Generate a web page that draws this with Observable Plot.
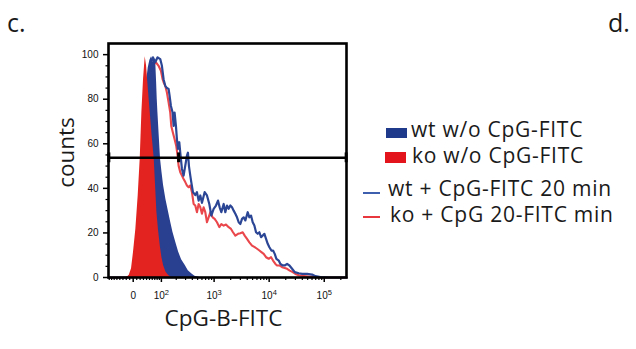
<!DOCTYPE html>
<html>
<head>
<meta charset="utf-8">
<script src="https://cdn.jsdelivr.net/npm/d3@7"></script>
<script src="https://cdn.jsdelivr.net/npm/@observablehq/plot@0.6"></script>
<style>
  html, body { margin: 0; padding: 0; background: #fff; }
  #wrap { position: relative; width: 636px; height: 349px; overflow: hidden; font-family: "Open Sans", sans-serif; color: #1a1a1a; }
  #wrap svg { position: absolute; left: 0; top: 0; }
  .t { position: absolute; white-space: nowrap; line-height: 1; }
  .sw { position: absolute; }
</style>
</head>
<body>
<div id="wrap"></div>
<script>
// ---------------- data ----------------
// x values are display channels on a biexponential (logicle-like) axis, y = counts (% of max)
const panelLabels = ["c.", "d."];
const xTitle = "CpG-B-FITC";
const yTitle = "counts";
const seriesNames = ["wt w/o CpG-FITC", "ko w/o CpG-FITC", "wt + CpG-FITC 20 min", "ko + CpG 20-FITC min"];

const wtNoCpg = [[-20,0],[-8,1],[0,4],[10,14],[20,35],[30,65],[38,85],[45,94],[50,97.5],[55,99],[60,96.6],[64,98],[68,95],[70,88],[72,80],[74,74],[77,66],[80,58],[82,53],[86,47.5],[91,41.3],[98,35],[106,29.3],[112,25],[119,20.3],[127,16],[136,11.4],[145,8],[156,5.4],[165,3],[176,1.6],[185,0.6],[191,0.3],[200,0]];

const koNoCpg = [[-20,0],[-12,0.9],[-5,3.9],[1,11.4],[8,21.8],[15,36.8],[21,53.2],[26,74],[31,89],[36,99],[40,95],[43,89],[51,74],[57,63],[63,53.2],[67,41.3],[71,29.3],[76,21],[81,14.3],[86,9],[91,5.4],[98,2.5],[106,0.9],[115,0]];

const wtCpg = [[-74,0],[-20,0],[-5,0.5],[10,5],[25,20],[35,45],[42,70],[48,88],[53,96.6],[59,98.8],[66,96.6],[73,98.8],[81,98],[86,95],[91,89],[96,86],[101,85],[106,84.6],[109,81.6],[113,77],[118,74],[121,68],[124,74],[128,68],[131,62],[134,57.7],[138,60.7],[141,56],[146,48.7],[151,45.7],[156,50.2],[161,54.7],[164,56],[167,50],[171,45.7],[174,42.8],[179,38.3],[186,37],[191,38.3],[196,34.5],[201,36.8],[206,33.5],[214,38.3],[221,36.8],[228,33],[234,27.8],[241,30.8],[248,32.3],[254,34.5],[259,31.5],[264,29.3],[271,33],[276,29.3],[281,32.3],[286,30.8],[291,32.3],[296,31.5],[301,30],[306,28.6],[311,27],[316,24.8],[321,24],[326,26.3],[331,27],[336,25.6],[343,29.3],[348,27],[353,27.8],[358,24.8],[363,23.3],[368,20.3],[373,19.6],[378,20.3],[383,18.1],[388,18.8],[393,19.6],[398,17.3],[403,15.1],[408,13.6],[414,12.1],[419,12.1],[424,10.6],[429,8.4],[436,7.6],[441,6.1],[448,5.4],[454,5.4],[461,6.1],[468,5.4],[476,3.9],[484,2.4],[496,1.9],[506,1.6],[521,1.6],[536,1.3],[546,0.6],[561,0.15],[586,0],[639,0]];

const koCpg = [[-74,0],[-20,0],[0,0.5],[20,4],[35,18],[45,45],[52,70],[58,88],[62,95],[66,97],[76,95],[83,92.8],[88,89],[91,87.6],[96,86],[101,83],[106,78.6],[111,74],[114,68],[119,65],[124,62],[129,59],[133,54.7],[136,50.2],[141,47.2],[146,45.7],[151,44.2],[156,42.8],[161,41.3],[166,40.5],[171,41.3],[176,38.3],[181,33],[186,32.3],[191,29.3],[196,33],[201,31.5],[206,28.6],[211,31.5],[216,29.3],[221,24.8],[226,27],[231,29.3],[238,27],[244,26.3],[251,24.8],[258,22.6],[264,24],[271,23.3],[278,23.8],[286,22.6],[293,21.8],[299,20.3],[306,18.8],[314,19.6],[321,19.9],[328,20.3],[334,18.8],[341,17.3],[348,15.8],[356,14.3],[364,13.6],[371,12.9],[378,12.1],[384,11.4],[391,10.6],[398,9.1],[406,8.4],[413,9.1],[419,7.6],[426,6.1],[431,5.4],[438,5.4],[446,4.6],[454,4.3],[461,3.9],[469,3.1],[478,2.4],[486,1.6],[496,1.0],[511,0.7],[526,0.45],[546,0.15],[566,0],[639,0]];

// gate line (horizontal marker) and its small end/handle marks
const gateCount = 53.7;
const gateMarks = [-73, 136, 638];

// axes
const xDomain = [-74, 639];
const yDomain = [0, 105];
const yMajor = [0, 20, 40, 60, 80, 100];
const yMinor = [5, 10, 15, 25, 30, 35, 45, 50, 55, 65, 70, 75, 85, 90, 95];
const xMajorValues = [0, 100, 1000, 10000, 100000];
const xMajorBase = ["0", "10", "10", "10", "10"];
const xMajorExp = ["", "2", "3", "4", "5"];
const xMinorValues = [-80,-70,-60,-50,-40,-30,-20,-10,10,20,30,40,50,60,70,80,90,
  200,300,400,500,600,700,800,900,2000,3000,4000,5000,6000,7000,8000,9000,
  20000,30000,40000,50000,60000,70000,80000,90000,200000];

const colors = { wtFill: "#293f90", koFill: "#e2231f", wtLine: "#2c4696", koLine: "#e9474b" };

// ---------------- scale helpers ----------------
const W2 = 68, CH_PER_DECADE = 165;
const toCh = v => CH_PER_DECADE * Math.asinh(v / W2) / Math.LN10;
const xMajor = xMajorValues.map(toCh);
const xIndex = new Map(xMajor.map((c, i) => [c, i]));
const xMinor = xMinorValues.map(toCh).filter(c => c > xDomain[0] && c < xDomain[1]);

const toRows = arr => arr.map(([ch, c]) => ({ch, c}));

const tickFont = "Liberation Sans, Arial, Helvetica, sans-serif";
const titleFont = "Open Sans, Noto Sans, sans-serif";

const plot = Plot.plot({
  width: 636,
  height: 349,
  marginLeft: 108,
  marginRight: 290,
  marginTop: 43,
  marginBottom: 72,
  style: { background: "transparent", fontFamily: tickFont, overflow: "visible" },
  x: { domain: xDomain, axis: null },
  y: { domain: yDomain, axis: null },
  marks: [
    Plot.lineY(toRows(koCpg), { x: "ch", y: "c", stroke: colors.koLine, strokeWidth: 2.1 }),
    Plot.lineY(toRows(wtCpg), { x: "ch", y: "c", stroke: colors.wtLine, strokeWidth: 2.2 }),
    Plot.areaY(toRows(wtNoCpg), { x: "ch", y: "c", fill: colors.wtFill }),
    Plot.areaY(toRows(koNoCpg), { x: "ch", y: "c", fill: colors.koFill }),
    Plot.ruleY([gateCount], { stroke: "#000", strokeWidth: 2.5 }),
    Plot.ruleX(gateMarks, { y1: gateCount - 2.2, y2: gateCount + 2.2, stroke: "#000", strokeWidth: 3 }),
    Plot.axisY(yMinor, { anchor: "left", tickSize: 2.5, tickFormat: () => "", label: null, stroke: "#000", strokeWidth: 1.2 }),
    Plot.axisY(yMajor, { anchor: "left", tickSize: 5, tickPadding: 5, fontSize: 10, label: null, stroke: "#000", strokeWidth: 1.5, fill: "#111" }),
    Plot.axisX(xMinor, { anchor: "bottom", tickSize: 3, tickFormat: () => "", label: null, stroke: "#000", strokeWidth: 1.2 }),
    Plot.axisX(xMajor, { anchor: "bottom", tickSize: 5, tickPadding: 9, fontSize: 10, label: null, stroke: "#000", strokeWidth: 1.5, fill: "#111",
      tickFormat: d => xMajorBase[xIndex.get(d)] + (xMajorExp[xIndex.get(d)] ? "^" + xMajorExp[xIndex.get(d)] : "") }),
    Plot.frame({ stroke: "#000", strokeWidth: 2.6 }),
    Plot.text([yTitle], { frameAnchor: "left", dx: -35, dy: -8, rotate: -90, lineAnchor: "bottom", textAnchor: "middle", fontSize: 22.5, fontFamily: titleFont, fill: "#1a1a1a" }),
    Plot.text([xTitle], { frameAnchor: "bottom", dx: -4, dy: 48, lineAnchor: "bottom", textAnchor: "middle", fontSize: 22.5, fontFamily: titleFont, fill: "#1a1a1a" })
  ]
});

// render "10^k" tick labels with real superscripts
d3.select(plot).selectAll("text").each(function () {
  const t = this.textContent;
  const m = /^(\d+)\^(\d+)$/.exec(t);
  if (!m) return;
  const sel = d3.select(this);
  sel.text(null);
  sel.append("tspan").text(m[1]);
  sel.append("tspan").attr("dy", "-0.45em").attr("font-size", "7.5").text(m[2]);
});

const wrap = document.getElementById("wrap");
wrap.appendChild(plot);

// ---------------- legend & panel letters (HTML overlay) ----------------
function addText(txt, left, top, size, ls) {
  const d = document.createElement("div");
  d.className = "t";
  d.textContent = txt;
  d.style.left = left + "px";
  d.style.top = top + "px";
  d.style.fontSize = size + "px";
  if (ls) d.style.letterSpacing = ls + "px";
  wrap.appendChild(d);
}
function addSwatch(left, top, w, h, color) {
  const d = document.createElement("div");
  d.className = "sw";
  Object.assign(d.style, { left: left + "px", top: top + "px", width: w + "px", height: h + "px", background: color });
  wrap.appendChild(d);
}
addText(panelLabels[0], 7, 10, 25);
addText(panelLabels[1], 608, 10, 25);

addSwatch(386, 128, 21, 10, "#1f3a8a");
addText(seriesNames[0], 411, 119, 21, 0.75);
addSwatch(385, 152, 21, 11, "#e3141b");
addText(seriesNames[1], 412, 145, 21, 0.75);
addSwatch(363, 191.5, 17, 2, "#3e5fae");
addText(seriesNames[2], 388, 177.5, 21, 0.75);
addSwatch(363, 215.5, 17, 2, "#e8383d");
addText(seriesNames[3], 390, 203.5, 21, 0.75);
</script>
</body>
</html>
